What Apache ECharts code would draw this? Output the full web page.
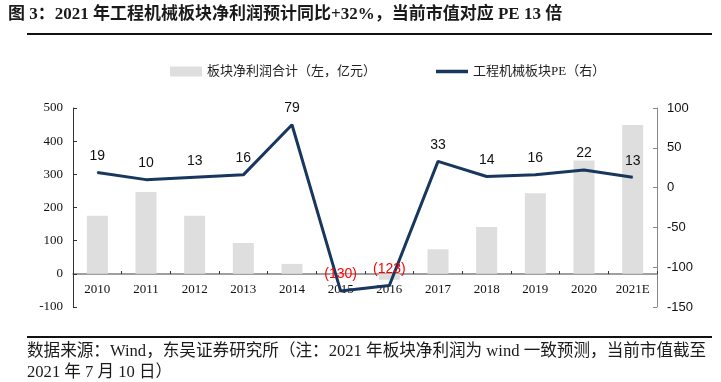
<!DOCTYPE html>
<html><head><meta charset="utf-8">
<script src="https://cdn.jsdelivr.net/npm/echarts@6/dist/echarts.min.js"></script>
<style>html,body{margin:0;padding:0;background:#fff;}#c{width:721px;height:382px;}</style>
</head><body><div id="c"></div>
<script>
const categories = ['2010','2011','2012','2013','2014','2015','2016','2017','2018','2019','2020','2021E'];
const profit = [175, 247, 175, 93, 30, -6, -18, 74, 141, 243, 342, 449];
const pe = [19, 10, 13, 16, 79, -130, -123, 33, 14, 16, 22, 13];
const leftTicks = {min: -100, max: 500, interval: 100};
const rightTicks = {min: -150, max: 100, interval: 50};
const titleText = '图 3：2021 年工程机械板块净利润预计同比+32%，当前市值对应 PE 13 倍';
const noteLine1 = '数据来源：Wind，东吴证券研究所（注：2021 年板块净利润为 wind 一致预测，当前市值截至';
const noteLine2 = '2021 年 7 月 10 日）';
const serif = '"Liberation Serif", "Noto Sans CJK SC", serif';
const sans = '"Liberation Sans", Arial, sans-serif';

const chart = echarts.init(document.getElementById('c'));
chart.setOption({
  animation: false,
  backgroundColor: '#fff',
  graphic: [
    {type: 'text', left: 8, top: 6, z: 100, style: {text: titleText, font: 'bold 17px ' + serif, fill: '#1a1a1a'}},
    {type: 'rect', left: 27, top: 33, z: 100, shape: {width: 685, height: 2}, style: {fill: '#111'}},
    {type: 'rect', left: 27, top: 336, z: 100, shape: {width: 685, height: 2}, style: {fill: '#111'}},
    {type: 'text', left: 27, top: 343, z: 100, style: {text: noteLine1, font: '16.6px ' + serif, fill: '#1a1a1a'}},
    {type: 'text', left: 27, top: 364, z: 100, style: {text: noteLine2, font: '16.6px ' + serif, fill: '#1a1a1a'}}
  ],
  legend: {
    top: 60, left: 165, itemGap: 60, itemWidth: 32, itemHeight: 10,
    textStyle: {fontFamily: serif, fontSize: 13, color: '#222'},
    data: [
      {name: '板块净利润合计（左，亿元）', icon: 'rect'},
      {name: '工程机械板块PE（右）', icon: 'path://M0,0 L32,0 L32,3.5 L0,3.5 Z', itemStyle: {color: '#17375e'}}
    ]
  },
  grid: {left: 73, right: 64, top: 108, bottom: 75},
  xAxis: {
    type: 'category', data: categories, offset: -33,
    axisLine: {onZero: false, lineStyle: {color: '#808080', width: 1.5}},
    axisTick: {show: true, inside: true, length: 3, lineStyle: {color: '#333'}},
    axisLabel: {fontFamily: serif, fontSize: 13, color: '#111', margin: 9}
  },
  yAxis: [
    {type: 'value', min: leftTicks.min, max: leftTicks.max, interval: leftTicks.interval,
     axisLine: {show: true, onZero: false, lineStyle: {color: '#333'}},
     axisTick: {show: true, inside: true, length: 4, lineStyle: {color: '#333'}},
     splitLine: {show: false},
     axisLabel: {fontFamily: serif, fontSize: 13, color: '#111', margin: 10}},
    {type: 'value', position: 'right', min: rightTicks.min, max: rightTicks.max, interval: rightTicks.interval,
     axisLine: {show: true, onZero: false, lineStyle: {color: '#888'}},
     axisTick: {show: true, inside: true, length: 4, lineStyle: {color: '#888'}},
     splitLine: {show: false},
     axisLabel: {fontFamily: sans, fontSize: 13, color: '#111', margin: 10}}
  ],
  series: [
    {name: '板块净利润合计（左，亿元）', type: 'bar', yAxisIndex: 0, data: profit,
     barWidth: 21, itemStyle: {color: '#dedede'}},
    {name: '工程机械板块PE（右）', type: 'line', yAxisIndex: 1, data: pe,
     symbol: 'circle', symbolSize: 1, showSymbol: true,
     lineStyle: {color: '#17375e', width: 3}, itemStyle: {color: '#17375e'},
     label: {show: true, position: 'top', distance: 9, fontFamily: sans, fontSize: 14,
       formatter: p => p.value < 0 ? '{n|(' + Math.abs(p.value) + ')}' : String(p.value),
       color: '#111',
       rich: {n: {color: '#ff0000', fontFamily: sans, fontSize: 14}}}}
  ]
});
</script></body></html>
